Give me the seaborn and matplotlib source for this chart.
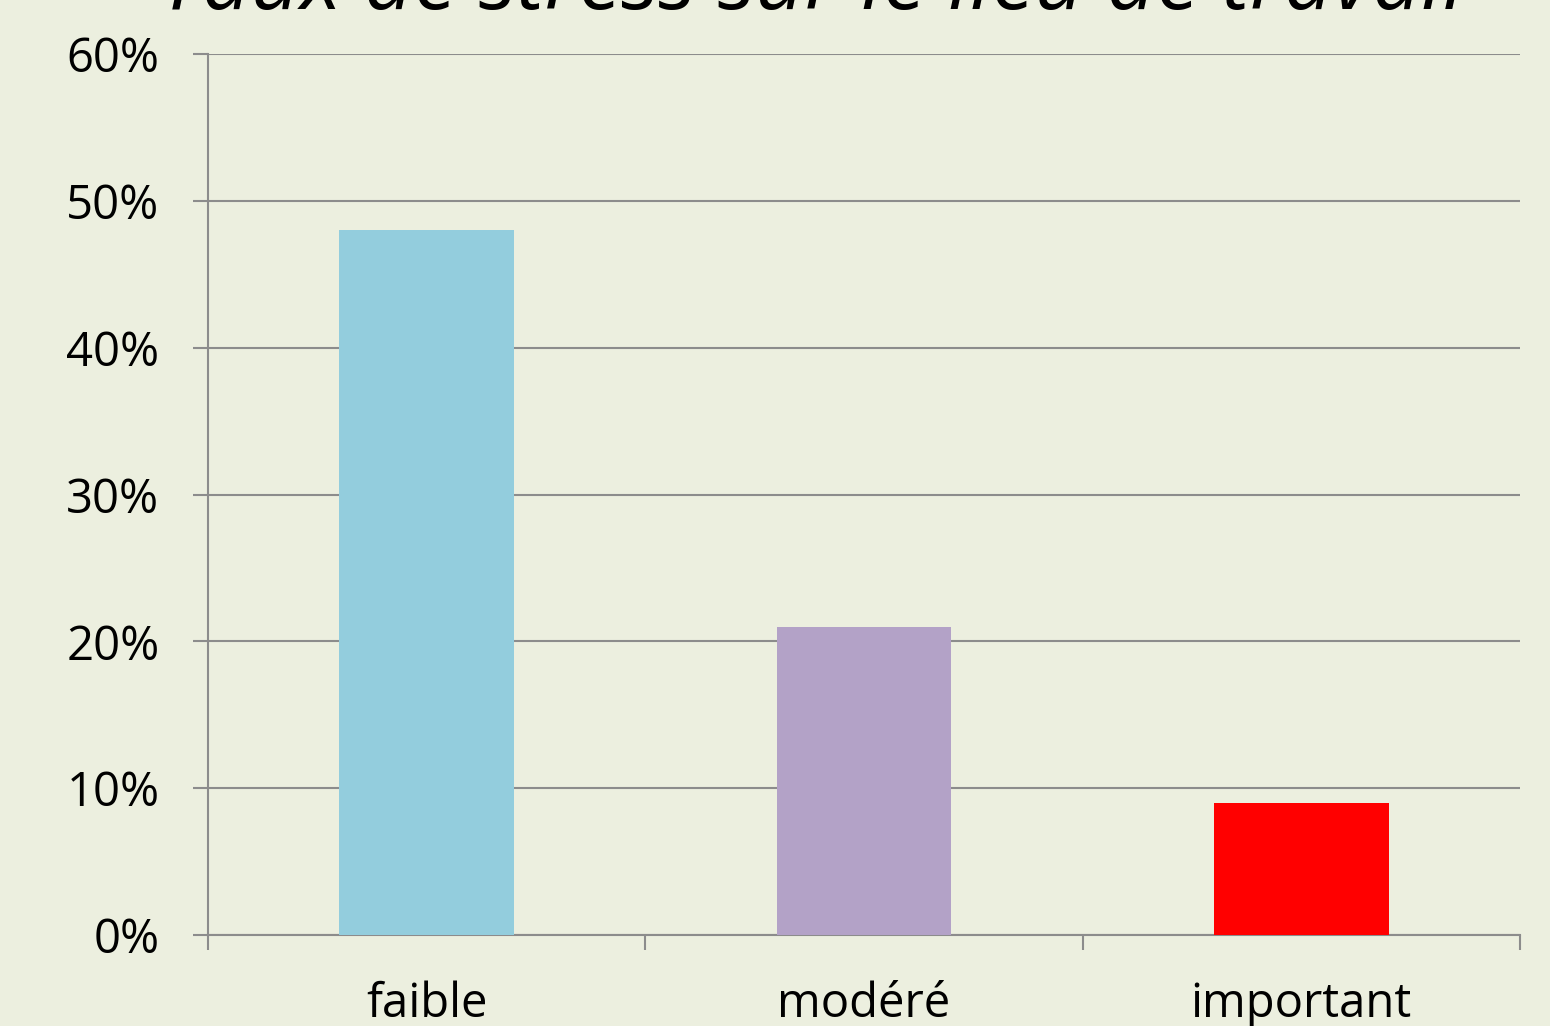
import matplotlib
matplotlib.use('Agg')
import matplotlib.pyplot as plt
import seaborn as sns
from matplotlib.ticker import PercentFormatter, FixedLocator

# === data ===
categories = ['faible', 'modéré', 'important']
values = [48, 21, 9]
bar_colors = ['#93CDDD', '#B3A2C7', '#FF0000']
title = 'Taux de stress sur le lieu de travail'

bg = '#ECEFDF'
grid_col = '#8C8C8C'

sns.set_theme(style='white')
plt.rcParams['font.family'] = ['Open Sans', 'DejaVu Sans']

fig = plt.figure(figsize=(15.5, 10.26), dpi=100, facecolor=bg)
ax = fig.add_axes([208 / 1550, 1 - 935 / 1026, 1312 / 1550, 881 / 1026])
ax.set_facecolor(bg)

sns.barplot(x=categories, y=values, hue=categories, palette=bar_colors,
            width=0.4, legend=False, saturation=1, linewidth=0, ax=ax, zorder=3)

ax.set_ylim(0, 60)
ax.set_xlim(-0.5, 2.5)
ax.yaxis.set_major_locator(FixedLocator([0, 10, 20, 30, 40, 50, 60]))
ax.yaxis.set_major_formatter(PercentFormatter(decimals=0))
ax.grid(axis='y', color=grid_col, linewidth=1.5, zorder=0)
ax.set_axisbelow(True)

for s in ['top', 'right']:
    ax.spines[s].set_visible(False)
for s in ['left', 'bottom']:
    ax.spines[s].set_color(grid_col)
    ax.spines[s].set_linewidth(1.5)

# tick marks between categories on x, outward ticks on y
ax.set_xticks([-0.5, 0.5, 1.5, 2.5], minor=True)
ax.tick_params(axis='x', which='minor', length=11, width=1.5, color=grid_col, bottom=True)
ax.tick_params(axis='x', which='major', length=0, pad=33, labelsize=34, labelcolor='black')
ax.tick_params(axis='y', which='major', length=11, width=1.5, color=grid_col, left=True,
               pad=24, labelsize=34, labelcolor='black')
ax.set_xlabel('')
ax.set_ylabel('')

# title partly cut off at the top, like the reference
t = fig.text(812 / 1550, 1 - 9 / 1026, title, ha='center', va='baseline',
             style='italic', fontsize=60, color='black')
fig.canvas.draw()
w = t.get_window_extent(fig.canvas.get_renderer()).width
t.set_fontsize(60 * 1305 / w)

fig.savefig('out.png', dpi=100, facecolor=bg)
